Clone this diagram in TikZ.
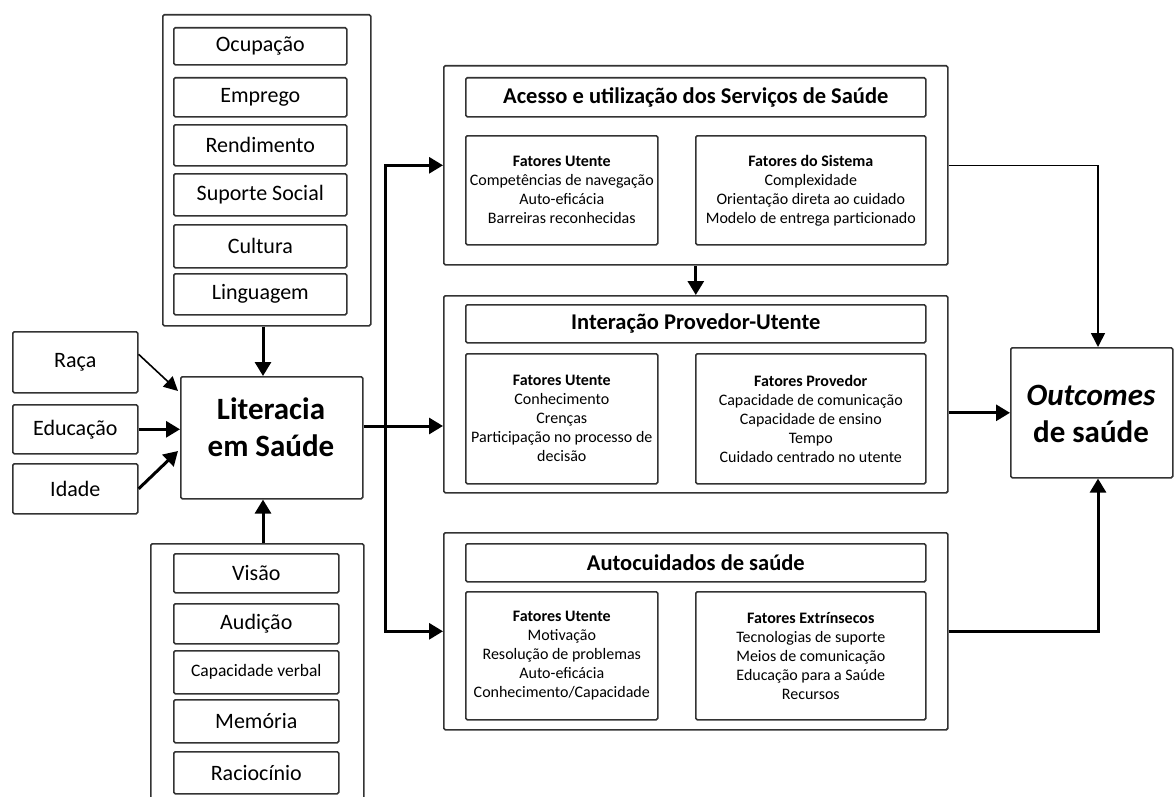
\documentclass[tikz,border=0pt]{standalone}
\usepackage{fontspec}
\setmainfont{Carlito}
\usetikzlibrary{arrows.meta,calc}
\begin{document}
\begin{tikzpicture}[x=1bp,y=-1bp,
  box/.style={draw=black!80, line width=1.6bp, rounded corners=1.5bp, fill=white, inner sep=0pt, align=center, anchor=north west},
  arr/.style={line width=3bp, -{Triangle[length=14bp,width=16bp]}},
  thin arr/.style={line width=1.6bp, -{Triangle[length=14bp,width=14bp]}},
  ln/.style={line width=3bp},
  lab/.style={font=\fontsize{22bp}{26bp}\selectfont},
  small lab/.style={font=\fontsize{17.5bp}{20bp}\selectfont},
  inner/.style={font=\fontsize{16bp}{19bp}\selectfont},
  title/.style={font=\bfseries\fontsize{22.5bp}{26bp}\selectfont},
  big/.style={font=\bfseries\fontsize{31bp}{37bp}\selectfont, align=center},
]
\useasboundingbox (0,0) rectangle (1175,797);

% top column
\node[box, minimum width=208bp, minimum height=311bp] (topcol) at (162,14) {};
\node[box, lab, minimum width=173bp, minimum height=37bp] (ocup) at (173,27) {Ocupação};
\node[box, lab, minimum width=173bp, minimum height=39bp] (empr) at (173,77) {Emprego};
\node[box, lab, minimum width=173bp, minimum height=41bp] (rend) at (173,124) {Rendimento};
\node[box, lab, minimum width=173bp, minimum height=42bp] (supo) at (173,173) {Suporte Social};
\node[box, lab, minimum width=173bp, minimum height=43bp] (cult) at (173,224) {Cultura};
\node[box, lab, minimum width=173bp, minimum height=41bp] (ling) at (173,273) {Linguagem};

% left boxes
\node[box, lab, minimum width=125bp, minimum height=61bp] (raca) at (12,331) {Raça};
\node[box, lab, minimum width=125bp, minimum height=49bp] (educ) at (12,404) {Educação};
\node[box, lab, minimum width=125bp, minimum height=50bp] (idade) at (12,463) {Idade};

% literacia
\node[box, minimum width=182bp, minimum height=122bp] (lit) at (180,376) {};
\node[big] (littxt) at (271,427) {Literacia\\em Saúde};

% bottom column
\node[box, minimum width=213bp, minimum height=290bp] (botcol) at (150,543) {};
\node[box, lab, minimum width=165bp, minimum height=39bp] (visao) at (173,553) {Visão};
\node[box, lab, minimum width=165bp, minimum height=40bp] (audi) at (173,603) {Audição};
\node[box, small lab, minimum width=165bp, minimum height=43bp] (capv) at (173,650) {Capacidade verbal};
\node[box, lab, minimum width=165bp, minimum height=43bp] (memo) at (173,699) {Memória};
\node[box, lab, minimum width=165bp, minimum height=42bp] (raci) at (173,751) {Raciocínio};

% box 1
\node[box, minimum width=504bp, minimum height=199bp] (box1) at (443,65) {};
\node[box, title, minimum width=460bp, minimum height=39bp] (t1) at (465,77) {Acesso e utilização dos Serviços de Saúde};
\node[box, inner, minimum width=192bp, minimum height=109bp] (u1) at (465,135) {\textbf{Fatores Utente}\\Competências de navegação\\Auto-eficácia\\Barreiras reconhecidas};
\node[box, inner, minimum width=230bp, minimum height=109bp] (s1) at (695,135) {\textbf{Fatores do Sistema}\\Complexidade\\Orientação direta ao cuidado\\Modelo de entrega particionado};

% box 2
\node[box, minimum width=504bp, minimum height=197bp] (box2) at (443,295) {};
\node[box, title, minimum width=460bp, minimum height=38bp] (t2) at (465,304) {Interação Provedor-Utente};
\node[box, inner, minimum width=192bp, minimum height=130bp] (u2) at (465,353) {\textbf{Fatores Utente}\\Conhecimento\\Crenças\\Participação no processo de\\decisão};
\node[box, inner, minimum width=230bp, minimum height=130bp] (s2) at (695,353) {\textbf{Fatores Provedor}\\Capacidade de comunicação\\Capacidade de ensino\\Tempo\\Cuidado centrado no utente};

% box 3
\node[box, minimum width=504bp, minimum height=197bp] (box3) at (443,532) {};
\node[box, title, minimum width=460bp, minimum height=38bp] (t3) at (465,543) {Autocuidados de saúde};
\node[box, inner, minimum width=192bp, minimum height=128bp] (u3) at (465,591) {\textbf{Fatores Utente}\\Motivação\\Resolução de problemas\\Auto-eficácia\\Conhecimento/Capacidade};
\node[box, inner, minimum width=230bp, minimum height=128bp] (s3) at (695,591) {\textbf{Fatores Extrínsecos}\\Tecnologias de suporte\\Meios de comunicação\\Educação para a Saúde\\Recursos};

% outcomes
\node[box, minimum width=162bp, minimum height=130bp] (out) at (1010,347) {};
\node[big] (outtxt) at (1091,414) {\textit{Outcomes}\\de saúde};

% helper coordinates
\coordinate (vx) at (263,0);
\coordinate (split) at (385,426);
\coordinate (rt) at (1098,165);

% arrows into literacia
\draw[arr] (vx |- topcol.south) -- (vx |- lit.north);
\draw[arr] (vx |- botcol.north) -- (vx |- lit.south);
\draw[thin arr] ($(raca.east)+(0,-8)$) -- (178,391);
\draw[arr] (educ.east) -- (lit.west |- educ.east);
\draw[arr] (idade.east) -- (178,451);

% from literacia to the three boxes
\draw[ln] (lit.east |- split) -- (split);
\draw[arr] (split) -- (box2.west |- split);
\draw[arr] (split) |- (box1.west);
\draw[arr] (split) |- (box3.west);

% box1 to box2
\draw[arr] (box1.south) -- (box2.north);

% to outcomes
\draw[line width=1.6bp, -{Triangle[length=14bp,width=14bp]}] (box1.east) -| (rt |- out.north);
\draw[arr] (box2.east |- out.west) -- (out.west);
\draw[arr] (box3.east) -| (rt |- out.south);
\end{tikzpicture}
\end{document}
